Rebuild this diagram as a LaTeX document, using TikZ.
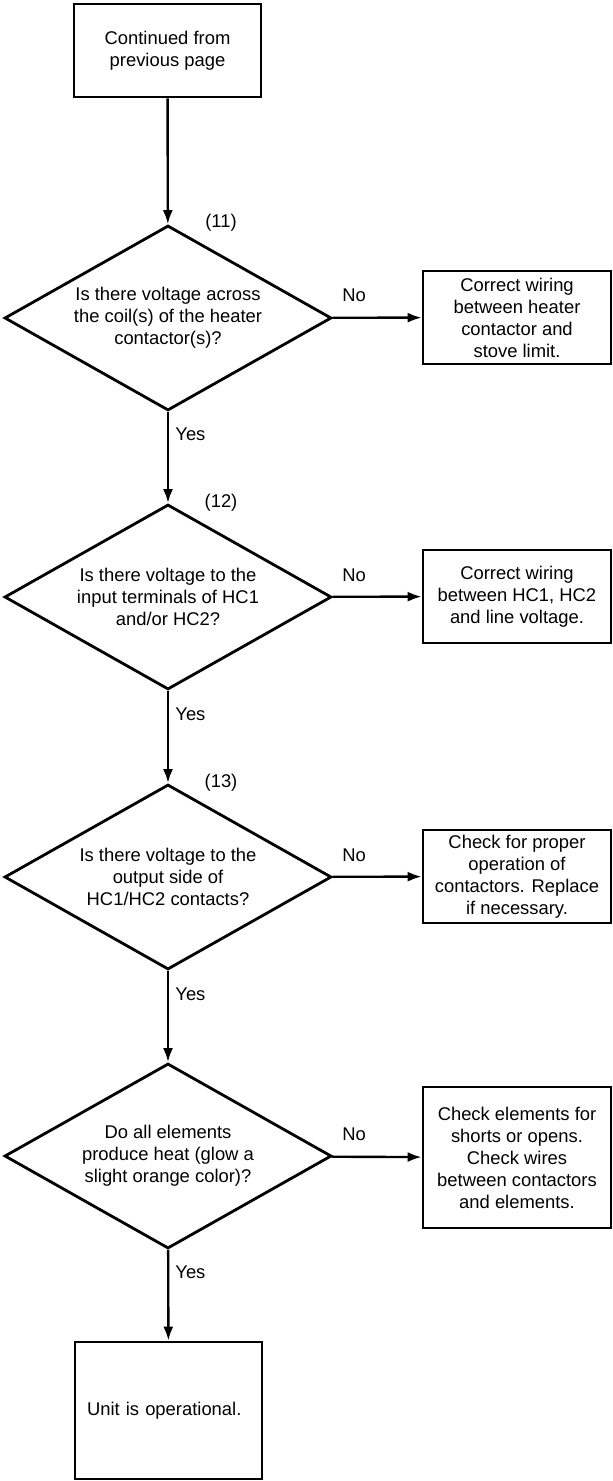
\documentclass[tikz,border=0pt]{standalone}
\usepackage{fontspec}
\setmainfont{Liberation Sans}
\usetikzlibrary{shapes.geometric,arrows.meta}
\begin{document}
\begin{tikzpicture}[x=0.5pt, y=-0.5pt, font=\fontsize{9.2}{11}\selectfont,
    box/.style = {draw, line width=1.4pt, align=center, inner sep=0pt, minimum width=93.5pt, minimum height=46.5pt},
    fixbox/.style = {box, minimum width=94pt},
    question/.style = {draw, diamond, aspect=1.77, line width=1.4pt, align=center, inner sep=0pt, minimum width=163.5pt, minimum height=92.5pt},
    tag/.style = {inner sep=0pt},
    flow/.style = {line width=1.2pt, -{Latex[length=7pt, width=5pt]}}]
    \useasboundingbox (0,0) rectangle (612,1481);
    \node[box] (start) at (167.5,50.5) {Continued from\\previous page};
    \node[question] (q1) at (168,318) {Is there voltage across\\the coil(s) of the heater\\contactor(s)?};
    \node[question] (q2) at (168,597) {Is there voltage to the\\input terminals of HC1\\and/or HC2?};
    \node[question] (q3) at (168,877) {Is there voltage to the\\output side of\\HC1/HC2 contacts?};
    \node[question] (q4) at (168,1156) {Do all elements\\produce heat (glow a\\slight orange color)?};
    \node[fixbox] (fix1) at (517,317.5) {Correct wiring\\between heater\\contactor and\\stove limit.};
    \node[fixbox] (fix2) at (517,596.5) {Correct wiring\\between HC1, HC2\\and line voltage.};
    \node[fixbox] (fix3) at (517,876.5) {Check for proper\\operation of\\contactors. Replace\\if necessary.};
    \node[fixbox, minimum height=70.5pt] (fix4) at (517,1157.5) {Check elements for\\shorts or opens.\\Check wires\\between contactors\\and elements.};
    \node[box, minimum height=68.5pt, text width=81.5pt, inner xsep=6pt, align=left] (done) at (168.5,1410.5) {Unit is operational.};
    \draw[flow] (start) -- (q1);
    \draw[flow] (q1) -- (q2);
    \draw[flow] (q2) -- (q3);
    \draw[flow] (q3) -- (q4);
    \draw[flow] (q4) -- (done);
    \draw[flow] (q1) -- (fix1);
    \draw[flow] (q2) -- (fix2);
    \draw[flow] (q3) -- (fix3);
    \draw[flow] (q4) -- (fix4);
    \node[tag] at (221,223) {(11)};
    \node[tag] at (221,503) {(12)};
    \node[tag] at (221,783) {(13)};
    \node[tag, anchor=west] at (342,295) {No};
    \node[tag, anchor=west] at (342,575) {No};
    \node[tag, anchor=west] at (342,855) {No};
    \node[tag, anchor=west] at (342,1134) {No};
    \node[tag, anchor=west] at (175,434) {Yes};
    \node[tag, anchor=west] at (175,714) {Yes};
    \node[tag, anchor=west] at (175,994) {Yes};
    \node[tag, anchor=west] at (175,1272) {Yes};
\end{tikzpicture}
\end{document}
